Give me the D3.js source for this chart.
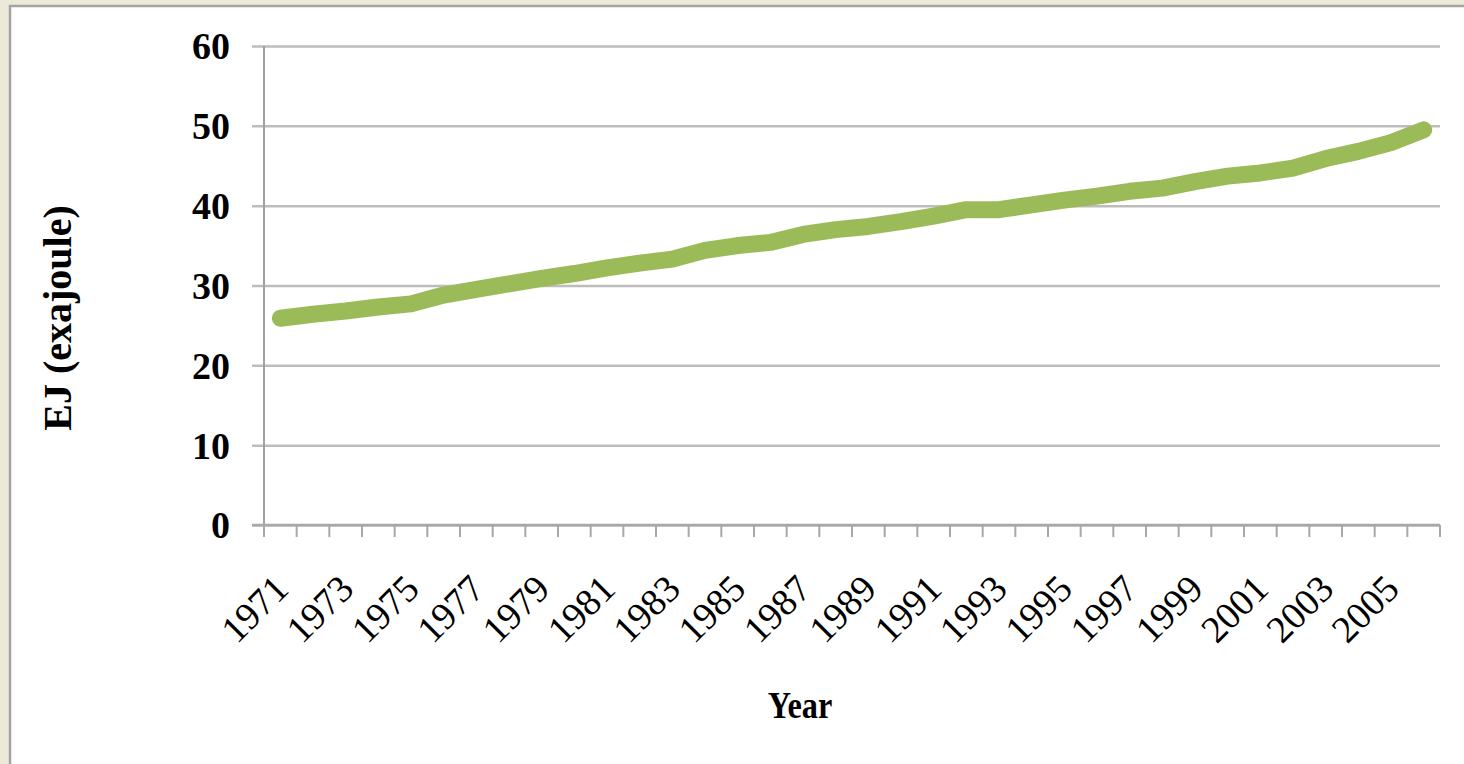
<!DOCTYPE html>
<html>
<head>
<meta charset="utf-8">
<script src="https://cdn.jsdelivr.net/npm/d3@7"></script>
<style>
  body { margin: 0; background: #ECE9D8; overflow: hidden; }
  svg { display: block; }
</style>
</head>
<body>
<div id="chart"></div>
<script>
const years = d3.range(1971, 2007).map(String);
const energy = [25.9, 26.4, 26.8, 27.3, 27.7, 28.8, 29.5, 30.2, 30.9, 31.5,
                32.2, 32.8, 33.3, 34.4, 35.0, 35.4, 36.4, 37.0, 37.4, 38.0,
                38.7, 39.5, 39.5, 40.1, 40.7, 41.2, 41.8, 42.2, 43.0, 43.7,
                44.1, 44.7, 45.9, 46.8, 47.9, 49.5];
const yTicks = [0, 10, 20, 30, 40, 50, 60];
const xLabels = years.filter((d, i) => i % 2 === 0);

const width = 1464, height = 764;
const margin = { top: 46, right: 24, bottom: 239, left: 264 };

const svg = d3.select("#chart").append("svg")
    .attr("width", width)
    .attr("height", height);

// white panel with grey edge
svg.append("rect")
    .attr("x", 10).attr("y", 6)
    .attr("width", width).attr("height", height)
    .attr("fill", "#fff")
    .attr("stroke", "#a3a3a3")
    .attr("stroke-width", 2.5);

const x = d3.scaleBand()
    .domain(years)
    .range([margin.left, width - margin.right]);

const y = d3.scaleLinear()
    .domain([0, 60])
    .range([height - margin.bottom, margin.top]);

// gridlines + y labels
const yAxis = svg.append("g")
    .attr("transform", `translate(${margin.left},0)`)
    .call(d3.axisLeft(y)
        .tickValues(yTicks)
        .tickSize(12)
        .tickPadding(22));
yAxis.select(".domain").remove();
yAxis.selectAll(".tick line").remove();
yAxis.selectAll(".tick").append("line")
    .attr("x1", -12)
    .attr("x2", width - margin.right - margin.left)
    .attr("stroke", "#bdbdbd")
    .attr("stroke-width", 2.5);
yAxis.selectAll(".tick text")
    .attr("font-family", "Liberation Serif, serif")
    .attr("font-weight", "bold")
    .attr("font-size", 38)
    .attr("fill", "#000")
    .attr("dy", "0.34em");

// y axis line
svg.append("line")
    .attr("x1", margin.left).attr("x2", margin.left)
    .attr("y1", y(60)).attr("y2", y(0) + 12)
    .attr("stroke", "#a0a0a0").attr("stroke-width", 2);

// x axis line and ticks at category boundaries
svg.append("line")
    .attr("x1", margin.left - 12).attr("x2", width - margin.right)
    .attr("y1", y(0)).attr("y2", y(0))
    .attr("stroke", "#a8a8a8").attr("stroke-width", 2.5);

svg.append("g").selectAll("line")
    .data(years.concat(["end"]))
    .enter()
    .append("line")
    .attr("x1", (d, i) => i < years.length ? x(d) : x.range()[1])
    .attr("x2", (d, i) => i < years.length ? x(d) : x.range()[1])
    .attr("y1", y(0))
    .attr("y2", y(0) + 12)
    .attr("stroke", "#a8a8a8")
    .attr("stroke-width", 2);

// rotated year labels
svg.append("g").selectAll("text")
    .data(xLabels)
    .enter()
    .append("text")
    .attr("transform", d => `translate(${x(d) + x.bandwidth() / 2 - 9},${y(0) + 47}) rotate(-45)`)
    .attr("text-anchor", "end")
    .attr("dy", "0.71em")
    .attr("font-family", "Liberation Serif, serif")
    .attr("font-size", 38)
    .attr("fill", "#000")
    .text(d => d);

// the series
const line = d3.line()
    .x((d, i) => x(years[i]) + x.bandwidth() / 2)
    .y(d => y(d));

svg.append("path")
    .datum(energy)
    .attr("d", line)
    .attr("fill", "none")
    .attr("stroke", "#9BBB59")
    .attr("stroke-width", 17)
    .attr("stroke-linejoin", "round")
    .attr("stroke-linecap", "round");

// axis titles
svg.append("text")
    .attr("transform", `translate(800,718) scale(0.85,1)`)
    .attr("text-anchor", "middle")
    .attr("font-family", "Liberation Serif, serif")
    .attr("font-weight", "bold")
    .attr("font-size", 38)
    .text("Year");

svg.append("text")
    .attr("transform", `translate(71,318) rotate(-90)`)
    .attr("text-anchor", "middle")
    .attr("font-family", "Liberation Serif, serif")
    .attr("font-weight", "bold")
    .attr("font-size", 40)
    .text("EJ (exajoule)");
</script>
</body>
</html>
